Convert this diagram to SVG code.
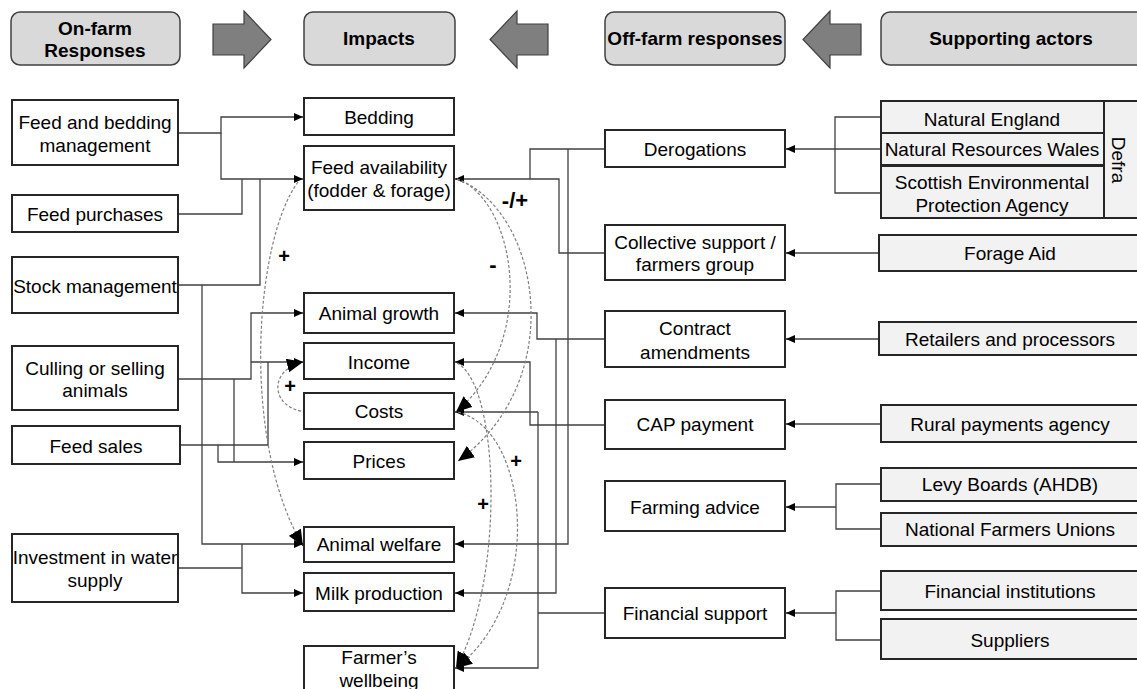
<svg xmlns="http://www.w3.org/2000/svg" width="1137" height="689" viewBox="0 0 1137 689">
<style>
.box{fill:#fff;stroke:#262626;stroke-width:2}
.sup{fill:#f2f2f2;stroke:#262626;stroke-width:2}
.hdr{fill:#d9d9d9;stroke:#404040;stroke-width:1.5}
.harrow{fill:#7f7f7f;stroke:#404040;stroke-width:1.2}
.t{font-family:"Liberation Sans",Arial,sans-serif;font-size:19px;fill:#000;text-anchor:middle}
.b{font-weight:bold}
.c{fill:none;stroke:#404040;stroke-width:1.3}
.d{fill:none;stroke:#7f7f7f;stroke-width:1.2;stroke-dasharray:3 2}
.lab{font-family:"Liberation Sans",Arial,sans-serif;font-weight:bold;fill:#000;text-anchor:middle}
</style>
<defs>
<marker id="a" markerUnits="userSpaceOnUse" markerWidth="10" markerHeight="8" refX="9" refY="4" orient="auto"><path d="M0,0 L9,4 L0,8 z" fill="#000"/></marker>
<marker id="big" markerUnits="userSpaceOnUse" markerWidth="17" markerHeight="14" refX="16" refY="7" orient="auto"><path d="M0,0 L16,7 L0,14 z" fill="#000"/></marker>
</defs>
<rect width="1137" height="689" fill="#fff"/>

<g id="headers">
<g id="h-onfarm"><rect class="hdr" x="11" y="12" width="169" height="53" rx="9"/><text class="t b" x="95" y="35">On-farm</text><text class="t b" x="95" y="57">Responses</text></g>
<g id="h-impacts"><rect class="hdr" x="304" y="12" width="151" height="53" rx="9"/><text class="t b" x="379" y="45">Impacts</text></g>
<g id="h-offfarm"><rect class="hdr" x="605" y="12" width="180" height="53" rx="9"/><text class="t b" x="695" y="45">Off-farm responses</text></g>
<g id="h-support"><rect class="hdr" x="881" y="12" width="270" height="53" rx="9"/><text class="t b" x="1011" y="45">Supporting actors</text></g>
<polygon class="harrow" points="213,24 244,24 244,11 271,39.5 244,68 244,55 213,55"/>
<polygon class="harrow" points="548,24 517,24 517,11 490,39.5 517,68 517,55 548,55"/>
<polygon class="harrow" points="861,24 830,24 830,11 803,39.5 830,68 830,55 861,55"/>
</g>

<g id="connectors">
<path class="c" d="M178,133 H221 V117 H303" marker-end="url(#a)"/>
<path class="c" d="M221,133 V179 H303" marker-end="url(#a)"/>
<path class="c" d="M178,214 H242 V179"/>
<path class="c" d="M178,285 H260 V179"/>
<path class="c" d="M202,285 V544 H303" marker-end="url(#a)"/>
<path class="c" d="M178,379 H251 V313 H303" marker-end="url(#a)"/>
<path class="c" d="M251,362 H303" marker-end="url(#a)"/>
<path class="c" d="M234,379 V462"/>
<path class="c" d="M180,445 H268 V362"/>
<path class="c" d="M218,445 V462 H303" marker-end="url(#a)"/>
<path class="c" d="M178,568 H242"/>
<path class="c" d="M242,544 V593 H303" marker-end="url(#a)"/>

<path class="c" d="M605,149 H530 V179"/>
<path class="c" d="M568,149 V544 H455" marker-end="url(#a)"/>
<path class="c" d="M605,253 H559 V179 H455" marker-end="url(#a)"/>
<path class="c" d="M605,339 H537 V313 H455" marker-end="url(#a)"/>
<path class="c" d="M556,339 V593 H455" marker-end="url(#a)"/>
<path class="c" d="M605,425 H530 V362 H455" marker-end="url(#a)"/>
<path class="c" d="M605,613 H538"/>
<path class="c" d="M538,412 V668 H455" marker-end="url(#a)"/>
<path class="c" d="M538,412 H455" marker-end="url(#a)"/>

<path class="c" d="M881,117 H835 V193 H881"/>
<path class="c" d="M881,149 H786" marker-end="url(#a)"/>
<path class="c" d="M879,253 H786" marker-end="url(#a)"/>
<path class="c" d="M879,339 H786" marker-end="url(#a)"/>
<path class="c" d="M881,424 H786" marker-end="url(#a)"/>
<path class="c" d="M881,484 H836 V529 H881"/>
<path class="c" d="M836,507 H786" marker-end="url(#a)"/>
<path class="c" d="M881,591 H836 V640 H881"/>
<path class="c" d="M836,613 H786" marker-end="url(#a)"/>

<path class="d" d="M298,182 C255,240 240,440 303,546" marker-end="url(#big)"/>
<path class="d" d="M306,412 C270,408 268,370 303,362" marker-end="url(#big)"/>
<path class="d" d="M457,179 C515,200 540,340 456,412" marker-end="url(#big)"/>
<path class="d" d="M457,179 C540,210 570,380 458,461" marker-end="url(#big)"/>
<path class="d" d="M457,363 C500,385 505,580 456,668" marker-end="url(#big)"/>
<path class="d" d="M458,412 C530,430 545,600 456,668" marker-end="url(#big)"/>
<text class="lab" x="284" y="263" font-size="20">+</text>
<text class="lab" x="290" y="393" font-size="20">+</text>
<text class="lab" x="515" y="208" font-size="22">-/+</text>
<text class="lab" x="493" y="272" font-size="22">-</text>
<text class="lab" x="516" y="468" font-size="20">+</text>
<text class="lab" x="483" y="511" font-size="20">+</text>
</g>

<g id="onfarm">
<g id="n-fbm"><rect class="box" x="12" y="100" width="166" height="65"/><text class="t" x="95" y="129">Feed and bedding</text><text class="t" x="95" y="152">management</text></g>
<g id="n-fp"><rect class="box" x="12" y="195" width="166" height="37"/><text class="t" x="95" y="221">Feed purchases</text></g>
<g id="n-sm"><rect class="box" x="12" y="257" width="166" height="56"/><text class="t" x="95" y="293">Stock management</text></g>
<g id="n-csa"><rect class="box" x="12" y="346" width="166" height="64"/><text class="t" x="95" y="375">Culling or selling</text><text class="t" x="95" y="397">animals</text></g>
<g id="n-fs"><rect class="box" x="12" y="426" width="168" height="38"/><text class="t" x="96" y="453">Feed sales</text></g>
<g id="n-iws"><rect class="box" x="12" y="534" width="166" height="68"/><text class="t" x="95" y="564">Investment in water</text><text class="t" x="95" y="587">supply</text></g>
</g>

<g id="impacts">
<g id="n-bed"><rect class="box" x="304" y="98" width="150" height="37"/><text class="t" x="379" y="124">Bedding</text></g>
<g id="n-fa"><rect class="box" x="304" y="146" width="150" height="64"/><text class="t" x="379" y="174">Feed availability</text><text class="t" x="379" y="197">(fodder &amp; forage)</text></g>
<g id="n-ag"><rect class="box" x="304" y="293" width="150" height="40"/><text class="t" x="379" y="320">Animal growth</text></g>
<g id="n-inc"><rect class="box" x="304" y="343" width="150" height="36"/><text class="t" x="379" y="369">Income</text></g>
<g id="n-cos"><rect class="box" x="304" y="393" width="150" height="36"/><text class="t" x="379" y="418">Costs</text></g>
<g id="n-pri"><rect class="box" x="304" y="442" width="150" height="37"/><text class="t" x="379" y="468">Prices</text></g>
<g id="n-aw"><rect class="box" x="304" y="527" width="150" height="35"/><text class="t" x="379" y="551">Animal welfare</text></g>
<g id="n-mp"><rect class="box" x="304" y="573" width="150" height="38"/><text class="t" x="379" y="600">Milk production</text></g>
<g id="n-fw"><rect class="box" x="304" y="646" width="150" height="60"/><text class="t" x="379" y="664">Farmer’s</text><text class="t" x="379" y="687">wellbeing</text></g>
</g>

<g id="offfarm">
<g id="n-der"><rect class="box" x="605" y="130" width="180" height="37"/><text class="t" x="695" y="156">Derogations</text></g>
<g id="n-col"><rect class="box" x="605" y="225" width="180" height="55"/><text class="t" x="695" y="249">Collective support /</text><text class="t" x="695" y="271">farmers group</text></g>
<g id="n-con"><rect class="box" x="605" y="311" width="180" height="56"/><text class="t" x="695" y="335">Contract</text><text class="t" x="695" y="359">amendments</text></g>
<g id="n-cap"><rect class="box" x="605" y="400" width="180" height="49"/><text class="t" x="695" y="431">CAP payment</text></g>
<g id="n-adv"><rect class="box" x="605" y="481" width="180" height="50"/><text class="t" x="695" y="514">Farming advice</text></g>
<g id="n-fin"><rect class="box" x="605" y="588" width="180" height="50"/><text class="t" x="695" y="620">Financial support</text></g>
</g>

<g id="support">
<g id="n-ne"><rect class="sup" x="881" y="101" width="223" height="32"/><text class="t" x="992" y="126">Natural England</text></g>
<g id="n-nrw"><rect class="sup" x="881" y="133" width="223" height="32"/><text class="t" x="992" y="156">Natural Resources Wales</text></g>
<g id="n-sepa"><rect class="sup" x="881" y="166" width="223" height="52"/><text class="t" x="992" y="189">Scottish Environmental</text><text class="t" x="992" y="212">Protection Agency</text></g>
<g id="n-defra"><rect class="sup" x="1104" y="101" width="40" height="117"/><text class="t" transform="translate(1112,160) rotate(90)" x="0" y="0">Defra</text></g>
<g id="n-fa2"><rect class="sup" x="879" y="235" width="268" height="36"/><text class="t" x="1010" y="260">Forage Aid</text></g>
<g id="n-ret"><rect class="sup" x="879" y="322" width="268" height="33"/><text class="t" x="1010" y="346">Retailers and processors</text></g>
<g id="n-rpa"><rect class="sup" x="881" y="405" width="266" height="37"/><text class="t" x="1010" y="431">Rural payments agency</text></g>
<g id="n-levy"><rect class="sup" x="881" y="468" width="266" height="33"/><text class="t" x="1010" y="491">Levy Boards (AHDB)</text></g>
<g id="n-nfu"><rect class="sup" x="881" y="513" width="266" height="33"/><text class="t" x="1010" y="536">National Farmers Unions</text></g>
<g id="n-fi"><rect class="sup" x="881" y="571" width="266" height="39"/><text class="t" x="1010" y="598">Financial institutions</text></g>
<g id="n-sup"><rect class="sup" x="881" y="619" width="266" height="40"/><text class="t" x="1010" y="647">Suppliers</text></g>
</g>
</svg>
